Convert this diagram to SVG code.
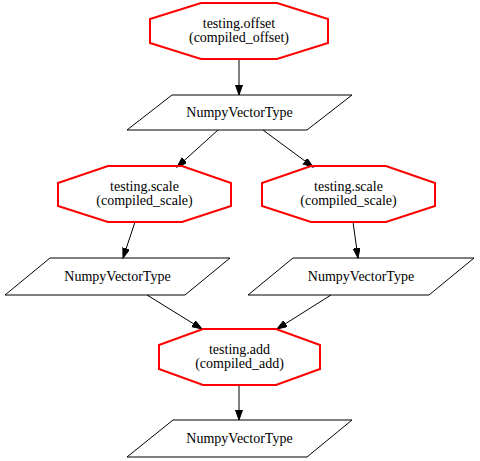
<svg xmlns="http://www.w3.org/2000/svg" width="480" height="461" viewBox="0 0 480 461">
<style>
.op{fill:none;stroke:#ff0000;stroke-width:2}
.ty{fill:none;stroke:#000;stroke-width:1}
text{font-family:"Liberation Serif","Times New Roman",serif;font-size:14px;text-anchor:middle;fill:#000}
.e{stroke:#000;stroke-width:1;fill:none}
</style>
<defs>
<marker id="ah" markerUnits="userSpaceOnUse" markerWidth="11" markerHeight="8" refX="10" refY="3.5" orient="auto" viewBox="0 0 11 8">
<path d="M0,0 L10,3.5 L0,7 Z" fill="#000" stroke="#000" stroke-width="1"/>
</marker>
</defs>
<rect width="480" height="461" fill="#fff"/>
<g id="connectors">
<line class="e" x1="239" y1="59" x2="239" y2="95" marker-end="url(#ah)"/>
<line class="e" x1="218" y1="130" x2="177" y2="167" marker-end="url(#ah)"/>
<line class="e" x1="263" y1="130" x2="313" y2="167" marker-end="url(#ah)"/>
<line class="e" x1="135" y1="222" x2="123" y2="258" marker-end="url(#ah)"/>
<line class="e" x1="353" y1="222" x2="358" y2="258" marker-end="url(#ah)"/>
<line class="e" x1="147" y1="295" x2="202" y2="329" marker-end="url(#ah)"/>
<line class="e" x1="331" y1="295" x2="277" y2="329" marker-end="url(#ah)"/>
<line class="e" x1="239" y1="385" x2="239" y2="420" marker-end="url(#ah)"/>
</g>
<g id="offset">
<polygon class="op" points="201,3 277,3 328,19 328,43 277,59 201,59 150,43 150,19"/>
<text x="239" y="28">testing.offset</text>
<text x="239" y="42">(compiled_offset)</text>
</g>
<g id="t1">
<polygon class="ty" points="172,95 352,95 307,130 127,130"/>
<text x="239.5" y="117">NumpyVectorType</text>
</g>
<g id="scale1">
<polygon class="op" points="108,166 182,166 231,183 231,206 182,222 108,222 58,206 58,183"/>
<text x="144.5" y="191">testing.scale</text>
<text x="144.5" y="205">(compiled_scale)</text>
</g>
<g id="scale2">
<polygon class="op" points="311,166 386,166 435,183 435,206 386,222 311,222 262,206 262,183"/>
<text x="348.5" y="191">testing.scale</text>
<text x="348.5" y="205">(compiled_scale)</text>
</g>
<g id="t2">
<polygon class="ty" points="50,258 230,258 185,295 5,295"/>
<text x="117.5" y="281">NumpyVectorType</text>
</g>
<g id="t3">
<polygon class="ty" points="293,258 474,258 429,295 248,295"/>
<text x="361" y="281">NumpyVectorType</text>
</g>
<g id="add">
<polygon class="op" points="203,329 276,329 320,345 320,369 276,385 203,385 159,369 159,345"/>
<text x="239.5" y="354">testing.add</text>
<text x="239.5" y="368">(compiled_add)</text>
</g>
<g id="t4">
<polygon class="ty" points="173,420 352,420 307,457 127,457"/>
<text x="239.5" y="443">NumpyVectorType</text>
</g>
</svg>
